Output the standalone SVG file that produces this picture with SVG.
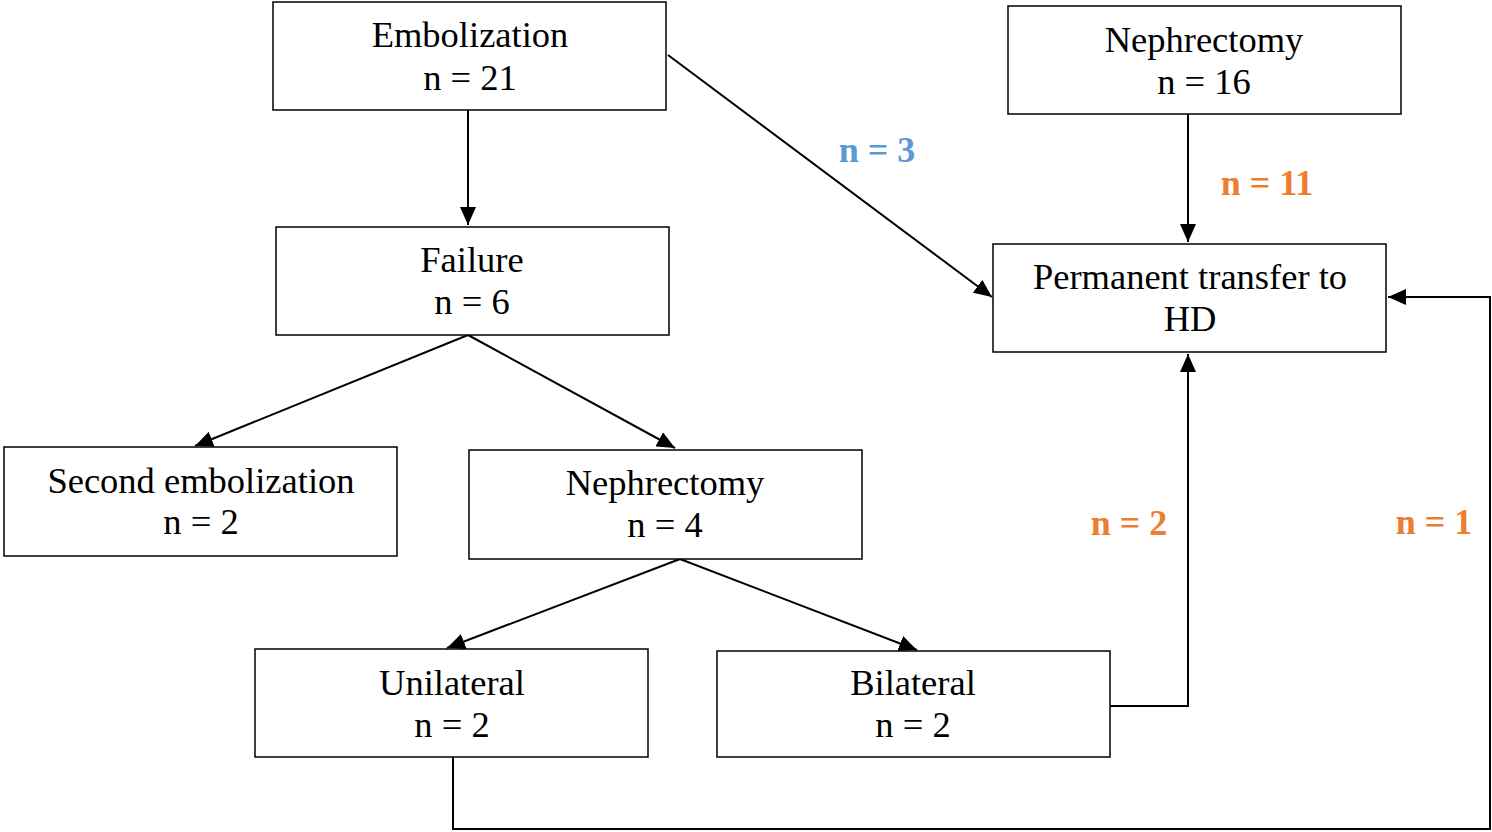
<svg xmlns="http://www.w3.org/2000/svg" width="1492" height="832" viewBox="0 0 1492 832">
<style>
.box{fill:#fff;stroke:#000;stroke-width:1.5}
.t{font-family:"Liberation Serif",serif;font-size:36.5px;text-anchor:middle;fill:#000}
.c{fill:none;stroke:#000;stroke-width:2}
.lb{font-family:"Liberation Serif",serif;font-size:36px;font-weight:bold}
.blue{fill:#5B9BD5}
.orange{fill:#ED7D31}
</style>
<defs>
<marker id="ah" viewBox="0 0 18 16" refX="18" refY="8" markerWidth="18" markerHeight="16" markerUnits="userSpaceOnUse" orient="auto">
<path d="M0,0 L18,8 L0,16 Z" fill="#000"/>
</marker>
</defs>
<g id="connectors">
<line class="c" x1="468" y1="110" x2="468" y2="225" marker-end="url(#ah)"/>
<line class="c" x1="668" y1="55" x2="992" y2="297" marker-end="url(#ah)"/>
<line class="c" x1="1188" y1="114" x2="1188" y2="242" marker-end="url(#ah)"/>
<line class="c" x1="468" y1="335" x2="195" y2="446" marker-end="url(#ah)"/>
<line class="c" x1="468" y1="335" x2="675" y2="448" marker-end="url(#ah)"/>
<line class="c" x1="680" y1="559" x2="447" y2="648" marker-end="url(#ah)"/>
<line class="c" x1="680" y1="559" x2="917" y2="650" marker-end="url(#ah)"/>
<polyline class="c" points="1110,706 1188,706 1188,354" marker-end="url(#ah)"/>
<polyline class="c" points="453,757 453,829 1490,829 1490,297 1388,297" marker-end="url(#ah)"/>
</g>
<g id="labels">
<text class="lb blue" x="877" y="162" text-anchor="middle">n = 3</text>
<text class="lb orange" x="1267" y="195" text-anchor="middle">n = 11</text>
<text class="lb orange" x="1129" y="535" text-anchor="middle">n = 2</text>
<text class="lb orange" x="1434" y="534" text-anchor="middle">n = 1</text>
</g>
<g id="embolization">
<rect class="box" x="273" y="2" width="393" height="108"/>
<text class="t" x="470" y="47">Embolization</text>
<text class="t" x="470" y="90">n = 21</text>
</g>
<g id="nephrectomy-top">
<rect class="box" x="1008" y="6" width="393" height="108"/>
<text class="t" x="1204" y="52">Nephrectomy</text>
<text class="t" x="1204" y="94">n = 16</text>
</g>
<g id="failure">
<rect class="box" x="276" y="227" width="393" height="108"/>
<text class="t" x="472" y="272">Failure</text>
<text class="t" x="472" y="314">n = 6</text>
</g>
<g id="hd">
<rect class="box" x="993" y="244" width="393" height="108"/>
<text class="t" x="1190" y="289">Permanent transfer to</text>
<text class="t" x="1190" y="331">HD</text>
</g>
<g id="second-embolization">
<rect class="box" x="4" y="447" width="393" height="109"/>
<text class="t" x="201" y="493">Second embolization</text>
<text class="t" x="201" y="534">n = 2</text>
</g>
<g id="nephrectomy-mid">
<rect class="box" x="469" y="450" width="393" height="109"/>
<text class="t" x="665" y="495">Nephrectomy</text>
<text class="t" x="665" y="537">n = 4</text>
</g>
<g id="unilateral">
<rect class="box" x="255" y="649" width="393" height="108"/>
<text class="t" x="452" y="695">Unilateral</text>
<text class="t" x="452" y="737">n = 2</text>
</g>
<g id="bilateral">
<rect class="box" x="717" y="651" width="393" height="106"/>
<text class="t" x="913" y="695">Bilateral</text>
<text class="t" x="913" y="737">n = 2</text>
</g>
</svg>
